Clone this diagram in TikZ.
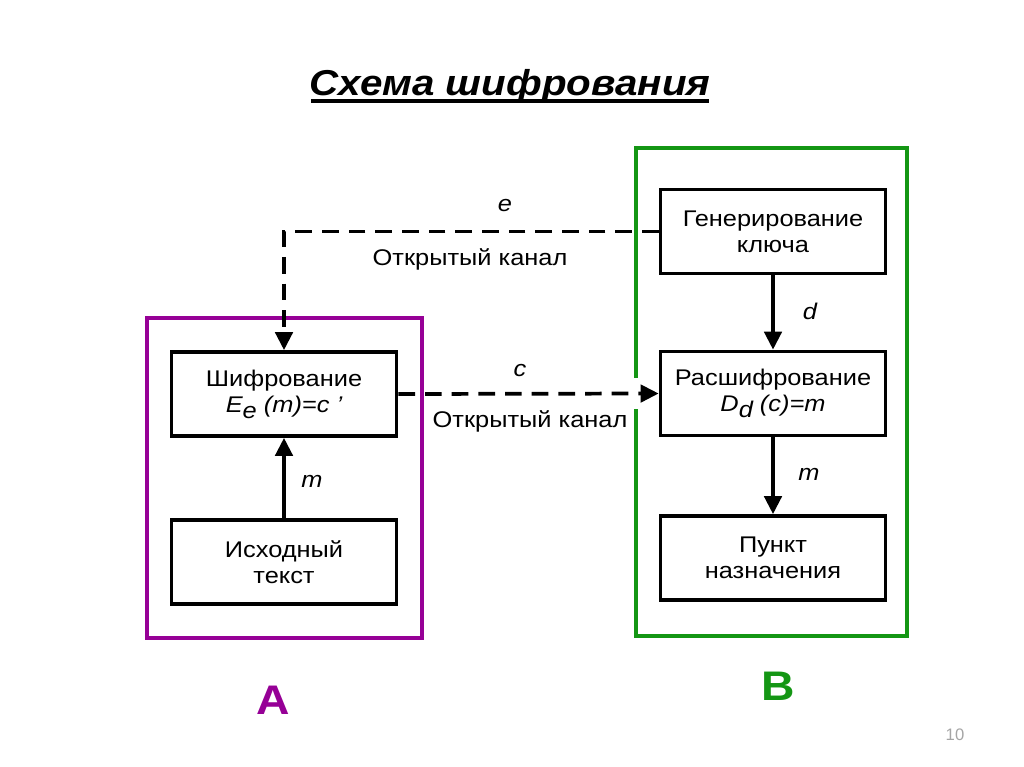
\documentclass[tikz,border=0pt]{standalone}
\usepackage{fontspec}
\setmainfont[FakeStretch=1.12]{Liberation Sans}
\newfontfamily\plainsans{Liberation Sans}
\usetikzlibrary{arrows.meta}
\definecolor{boxA}{RGB}{150,0,150}
\definecolor{boxB}{RGB}{20,150,20}
\definecolor{pnum}{RGB}{165,165,165}
\tikzset{
  blk/.style={draw=black, line width=2.8pt, minimum width=168.75pt, minimum height=63pt, align=center, font=\fontsize{17}{19.5}\selectfont, inner sep=0pt},
  frameA/.style={draw=boxA, line width=2.3pt, inner sep=0pt},
  frameB/.style={draw=boxB, line width=2.3pt, inner sep=0pt},
  conn/.style={line width=2.8pt, -{Triangle[width=13pt,length=13.5pt]}},
  dconn/.style={conn, dash pattern=on 12.5pt off 7.5pt},
  lbl/.style={font=\fontsize{17}{19.5}\selectfont},
  ilbl/.style={font=\fontsize{17}{19.5}\selectfont\itshape},
}
\begin{document}
\begin{tikzpicture}[x=0.75pt,y=-0.75pt]
\useasboundingbox (0,0) rectangle (1024,767);
% title
\node[font=\fontsize{27}{30}\selectfont\bfseries\itshape] (title) at (510,86) {Схема шифрования};
\draw[line width=2.6pt] (311,101) coordinate (ul1) -- (709,101) coordinate (ul2);
% frames
\node[frameA, minimum width=206.25pt, minimum height=240pt] (fa) at (284.5,478) {};
\node[frameB, minimum width=203.25pt, minimum height=366pt] (fb) at (771.5,392) {};
% blocks
\node[blk] (enc) at (284,394) {Шифрование\\{\itshape E\raisebox{-0.5ex}{e} (m)=c '}};
\node[blk] (src) at (284,562) {Исходный\\текст};
\node[blk] (gen) at (773,231.5) {Генерирование\\ключа};
\node[blk] (dec) at (773,393.5) {Расшифрование\\{\itshape D\raisebox{-0.5ex}{d} (c)=m}};
\node[blk] (dst) at (773,558) {Пункт\\назначения};
% connectors
\draw[dconn] (gen.west) -| (enc.north);
\fill[white] (633,378) rectangle (640,409);
\draw[dconn] (enc.east) -- (dec.west);
\draw[conn] (src.north) -- (enc.south);
\draw[conn] (gen.south) -- (dec.north);
\draw[conn] (dec.south) -- (dst.north);
% labels
\node[ilbl] (le) at (505,206) {e};
\node[lbl] (lch1) at (470,259) {Открытый канал};
\node[ilbl] (lc) at (520,371) {c};
\node[lbl] (lch2) at (530,421) {Открытый канал};
\node[ilbl] (lm1) at (312,481) {m};
\node[ilbl] (ld) at (810,311) {d};
\node[ilbl] (lm2) at (809,474) {m};
\node[font=\fontsize{31}{34}\selectfont\bfseries, text=boxA] (la) at (273,700) {A};
\node[font=\fontsize{31}{34}\selectfont\bfseries, text=boxB] (lb) at (778,686) {B};
\node[font=\plainsans\fontsize{12.5}{14}\selectfont, text=pnum] (pn) at (955,735) {10};
\end{tikzpicture}
\end{document}
